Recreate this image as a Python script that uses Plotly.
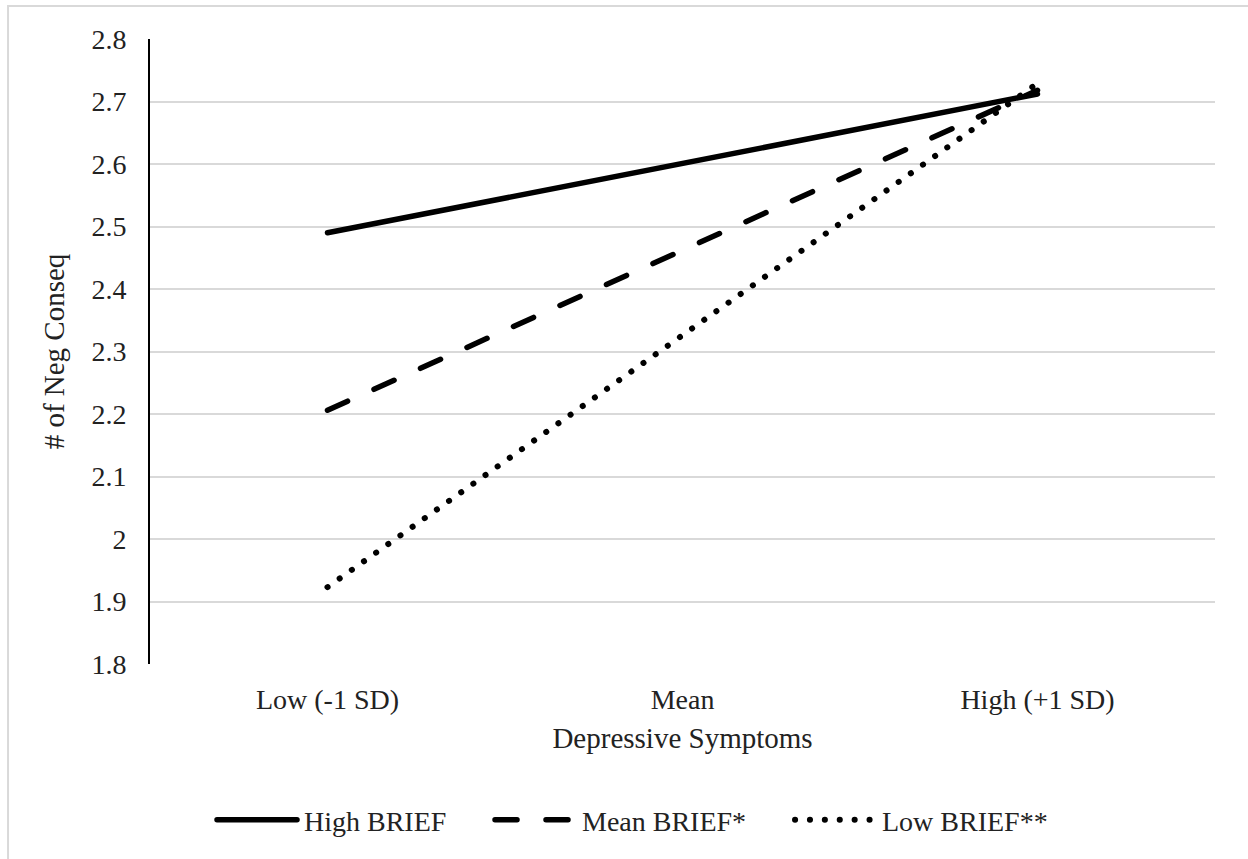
import plotly.graph_objects as go

categories = ["Low (-1 SD)", "Mean", "High (+1 SD)"]
high_brief = [2.490, 2.601, 2.712]
mean_brief = [2.206, 2.462, 2.718]
low_brief = [1.923, 2.326, 2.729]
series_names = ["High BRIEF", "Mean BRIEF*", "Low BRIEF**"]
y_ticks = [1.8, 1.9, 2.0, 2.1, 2.2, 2.3, 2.4, 2.5, 2.6, 2.7, 2.8]
y_tick_labels = ["1.8", "1.9", "2", "2.1", "2.2", "2.3", "2.4", "2.5", "2.6", "2.7", "2.8"]

FONT = "Liberation Serif, Times New Roman, serif"
TXT = "#222222"

fig = go.Figure()
styles = [
    dict(width=5.5, dash="solid", lw=183),
    dict(width=5.5, dash="22px,29px", lw=205),
    dict(width=6, dash="0.1px,14.8px", lw=175),
]
for name, vals, st in zip(series_names, [high_brief, mean_brief, low_brief], styles):
    fig.add_trace(go.Scatter(
        x=categories, y=vals, mode="lines", name=name,
        line=dict(color="black", width=st["width"], dash=st["dash"]),
        legendwidth=st["lw"],
    ))

fig.update_layout(
    width=1248, height=859,
    margin=dict(l=150, r=33, t=39, b=195),
    paper_bgcolor="white", plot_bgcolor="white",
    font=dict(family=FONT, color=TXT, size=28),
    showlegend=True,
    legend=dict(
        orientation="h", x=0.0601, xanchor="left", y=-0.2496, yanchor="middle",
        font=dict(family=FONT, size=28, color=TXT),
        itemwidth=80, tracegroupgap=0, bgcolor="rgba(0,0,0,0)",
    ),
    xaxis=dict(
        type="category", range=[-0.5, 2.5],
        showgrid=False, showline=False, zeroline=False, ticks="",
        ticklabelstandoff=16,
        tickfont=dict(family=FONT, size=28, color=TXT),
        title=dict(text="Depressive Symptoms", font=dict(family=FONT, size=29, color=TXT), standoff=13),
    ),
    yaxis=dict(
        range=[1.8, 2.8], tickvals=y_ticks, ticktext=y_tick_labels,
        showgrid=True, gridcolor="#d9d9d9", gridwidth=2,
        showline=True, linecolor="black", linewidth=2,
        zeroline=False, ticks="", ticklabelstandoff=16,
        tickfont=dict(family=FONT, size=28, color=TXT),
        title=dict(text="# of Neg Conseq", font=dict(family=FONT, size=29, color=TXT), standoff=18),
    ),
    shapes=[dict(
        type="rect", xref="paper", yref="paper",
        x0=-0.1333, x1=1.2, y0=-0.5, y1=1.0528,
        line=dict(color="#d9d9d9", width=2), layer="below",
    )],
)

post = """
var s = document.createElement('style');
s.innerHTML = 'body{margin:0 !important;} .js-line{stroke-linecap:round;}';
document.head.appendChild(s);
document.querySelectorAll('.legend .traces .js-line').forEach(function(p){ p.setAttribute('d','M3,0h80'); });
"""
fig.write_html("out.html", post_script=post, config={"displayModeBar": False})
